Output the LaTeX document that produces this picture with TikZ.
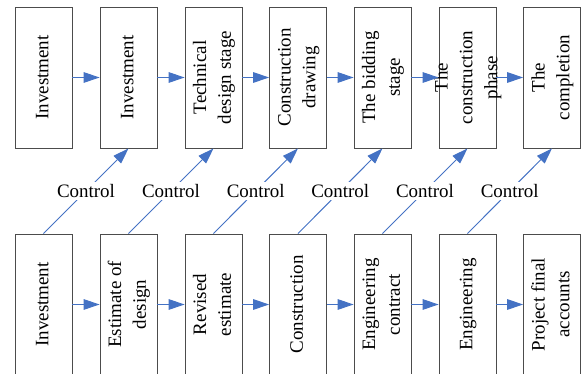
\documentclass[tikz,border=0pt]{standalone}
\usepackage{fontspec}
\setmainfont{Liberation Serif}
\usetikzlibrary{arrows.meta}
\definecolor{flowblue}{RGB}{68,114,196}
\newcommand{\vlabel}[1]{\makebox[0pt]{\rotatebox{90}{\begin{tabular}{@{}c@{}}#1\end{tabular}}}}
\tikzset{
  stagebox/.style={draw=black!70, line width=.5pt, minimum width=1.14cm, minimum height=2.82cm, inner sep=0pt,
    font=\rmfamily\fontsize{10.8}{14.2}\selectfont},
  flow/.style={draw=flowblue, line width=.55pt, -{Triangle[length=9pt, width=6pt]}},
  ctrl/.style={fill=white, inner sep=1.5pt, font=\rmfamily\fontsize{10.8}{13}\selectfont}
}
\begin{document}
\begin{tikzpicture}
      \useasboundingbox (0, 0) rectangle (11.62, 7.48);

        %%top row
        \node[stagebox] (t1) at (.87, 5.93) {\vlabel{Investment}};
        \node[stagebox] (t2) at (2.57, 5.93) {\vlabel{Investment}};
        \node[stagebox] (t3) at (4.27, 5.93) {\vlabel{Technical\\design stage}};
        \node[stagebox] (t4) at (5.96, 5.93) {\vlabel{Construction\\drawing}};
        \node[stagebox] (t5) at (7.65, 5.93) {\vlabel{The bidding\\stage}};
        \node[stagebox] (t6) at (9.35, 5.93) {\vlabel{The\\construction\\phase}};
        \node[stagebox] (t7) at (11.04, 5.93) {\vlabel{The\\completion}};

          \draw[flow] (t1) -- (t2);
          \draw[flow] (t2) -- (t3);
          \draw[flow] (t3) -- (t4);
          \draw[flow] (t4) -- (t5);
          \draw[flow] (t5) -- (t6);
          \draw[flow] (t6) -- (t7);

        %%bottom row
        \node[stagebox] (b1) at (.87, 1.39) {\vlabel{Investment}};
        \node[stagebox] (b2) at (2.57, 1.39) {\vlabel{Estimate of\\design}};
        \node[stagebox] (b3) at (4.27, 1.39) {\vlabel{Revised\\estimate}};
        \node[stagebox] (b4) at (5.96, 1.39) {\vlabel{Construction}};
        \node[stagebox] (b5) at (7.65, 1.39) {\vlabel{Engineering\\contract}};
        \node[stagebox] (b6) at (9.35, 1.39) {\vlabel{Engineering}};
        \node[stagebox] (b7) at (11.04, 1.39) {\vlabel{Project final\\accounts}};

          \draw[flow] (b1) -- (b2);
          \draw[flow] (b2) -- (b3);
          \draw[flow] (b3) -- (b4);
          \draw[flow] (b4) -- (b5);
          \draw[flow] (b5) -- (b6);
          \draw[flow] (b6) -- (b7);

        %%control
        \draw[flow] (b1.north) -- node[ctrl] (c1) {Control} (t2.south);
        \draw[flow] (b2.north) -- node[ctrl] (c2) {Control} (t3.south);
        \draw[flow] (b3.north) -- node[ctrl] (c3) {Control} (t4.south);
        \draw[flow] (b4.north) -- node[ctrl] (c4) {Control} (t5.south);
        \draw[flow] (b5.north) -- node[ctrl] (c5) {Control} (t6.south);
        \draw[flow] (b6.north) -- node[ctrl] (c6) {Control} (t7.south);

      \end{tikzpicture}
\end{document}
